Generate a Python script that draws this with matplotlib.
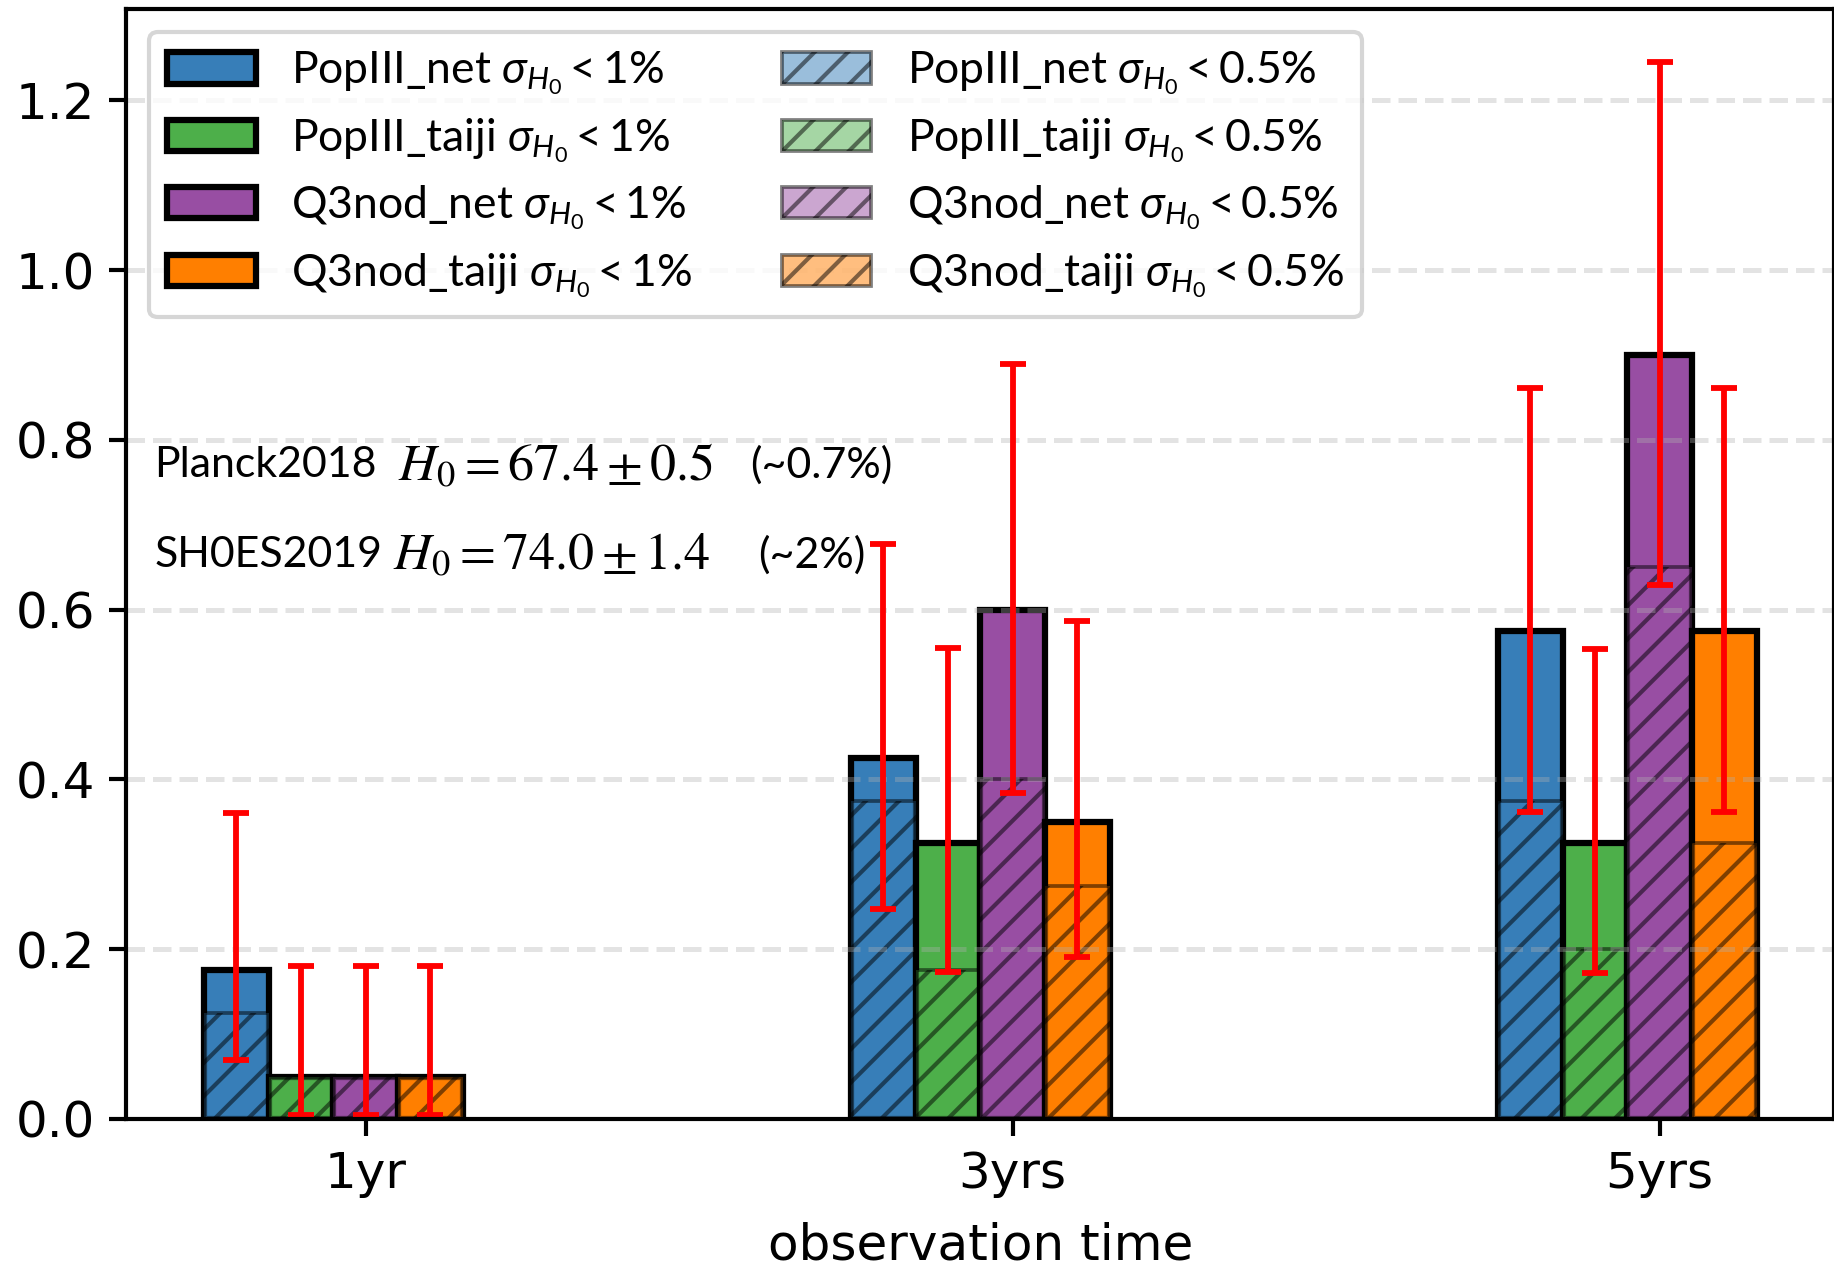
import numpy as np
import matplotlib
matplotlib.use("Agg")
import matplotlib.pyplot as plt
from matplotlib.font_manager import FontProperties

# data
times = ["1yr", "3yrs", "5yrs"]
series = ["PopIII_net", "PopIII_taiji", "Q3nod_net", "Q3nod_taiji"]
colors = ["#377eb8", "#4daf4a", "#984ea3", "#ff7f00"]

# fraction reaching sigma_H0 < 1%
popiii_net_1 = [0.175, 0.425, 0.575]
popiii_taiji_1 = [0.05, 0.325, 0.325]
q3nod_net_1 = [0.05, 0.60, 0.90]
q3nod_taiji_1 = [0.05, 0.35, 0.575]

# fraction reaching sigma_H0 < 0.5%
popiii_net_05 = [0.125, 0.375, 0.375]
popiii_taiji_05 = [0.05, 0.175, 0.20]
q3nod_net_05 = [0.05, 0.40, 0.65]
q3nod_taiji_05 = [0.05, 0.275, 0.325]

# error bar ranges (low, high)
popiii_net_lo = [0.07, 0.247, 0.362]
popiii_net_hi = [0.361, 0.678, 0.861]
popiii_taiji_lo = [0.005, 0.173, 0.172]
popiii_taiji_hi = [0.180, 0.555, 0.554]
q3nod_net_lo = [0.005, 0.384, 0.629]
q3nod_net_hi = [0.180, 0.890, 1.245]
q3nod_taiji_lo = [0.005, 0.191, 0.362]
q3nod_taiji_hi = [0.180, 0.587, 0.861]

vals_1 = [popiii_net_1, popiii_taiji_1, q3nod_net_1, q3nod_taiji_1]
vals_05 = [popiii_net_05, popiii_taiji_05, q3nod_net_05, q3nod_taiji_05]
err_lo = [popiii_net_lo, popiii_taiji_lo, q3nod_net_lo, q3nod_taiji_lo]
err_hi = [popiii_net_hi, popiii_taiji_hi, q3nod_net_hi, q3nod_taiji_hi]

# two reference values written on the plot
refs = [("Planck2018", r"$H_0 = 67.4 \pm 0.5$", "(~0.7%)"),
        ("SH0ES2019", r"$H_0 = 74.0 \pm 1.4$", "(~2%)")]

narrow = "Lato"
plt.rcParams["mathtext.fontset"] = "custom"
plt.rcParams["mathtext.rm"] = narrow
plt.rcParams["mathtext.it"] = narrow + ":italic"
plt.rcParams["hatch.linewidth"] = 1.0
plt.rcParams["axes.linewidth"] = 1.0

fig = plt.figure(figsize=(1835 / 300, 1267 / 300), dpi=300)
ax = fig.add_axes([126.4 / 1835, 148 / 1267, 1708 / 1835, 1109.6 / 1267])

x = np.arange(len(times))
width = 0.1
offsets = [-0.2, -0.1, 0.0, 0.1]

h1, h05 = [], []
for i in range(4):
    pos = x + offsets[i]
    b1 = ax.bar(pos, vals_1[i], width, color=colors[i], edgecolor="black",
                linewidth=1.5, label=series[i] + r" $\sigma_{H_0} < 1\%$")
    b2 = ax.bar(pos, vals_05[i], width, color=colors[i], edgecolor="black",
                linewidth=0.9, alpha=0.5, hatch="///",
                label=series[i] + r" $\sigma_{H_0} < 0.5\%$")
    h1.append(b1)
    h05.append(b2)
    lo = np.array(err_lo[i])
    hi = np.array(err_hi[i])
    mid = (lo + hi) / 2
    ax.errorbar(pos, mid, yerr=(hi - lo) / 2, fmt="none", ecolor="red",
                elinewidth=1.4, capsize=3.2, capthick=1.4)

ax.set_xticks(x)
ax.set_xticklabels(times, fontsize=12)
ax.tick_params(axis="y", labelsize=12)
ax.tick_params(width=1.0, length=4)
ax.set_xlabel("observation time", fontsize=12, labelpad=5.5)
ax.yaxis.grid(True, linestyle="--", color="#b0b0b0", alpha=0.35, linewidth=1.2)
ax.set_yticks([0.0, 0.2, 0.4, 0.6, 0.8, 1.0, 1.2])

legprop = FontProperties(family=narrow, size=10.7)
ax.legend(handles=h1 + h05, ncol=2, loc="upper left", prop=legprop,
          labelspacing=0.42)

txt = FontProperties(family=narrow, size=10.3)
mth = FontProperties(family=narrow, size=12.5, math_fontfamily="stix")
ys = [0.589, 0.508]
math_dx = [58.4, 57.3]
pct_dx = [143.0, 144.8]
for (name, eq, pct), y, dm, dp in zip(refs, ys, math_dx, pct_dx):
    ax.annotate(name, (0.0165, y), xycoords="axes fraction", va="center",
                ha="left", fontproperties=txt)
    ax.annotate(eq, (0.0165, y), xycoords="axes fraction", xytext=(dm, 0),
                textcoords="offset points", va="center", ha="left",
                fontproperties=mth)
    ax.annotate(pct, (0.0165, y), xycoords="axes fraction", xytext=(dp, 0),
                textcoords="offset points", va="center", ha="left",
                fontproperties=txt)

fig.savefig("out.png", dpi=300)
